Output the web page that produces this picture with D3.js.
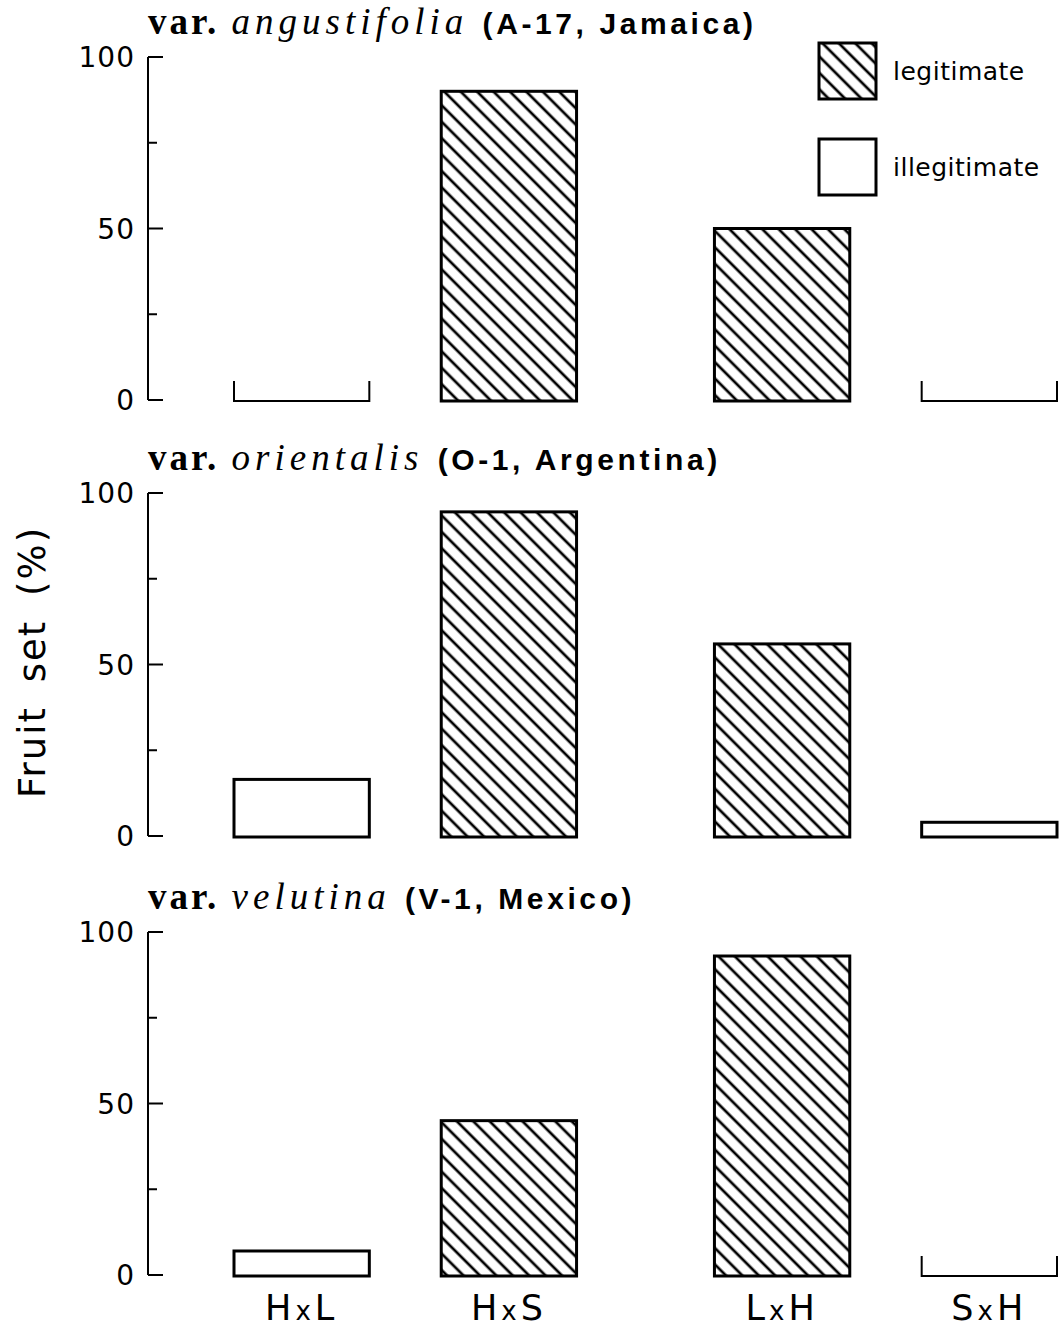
<!DOCTYPE html>
<html lang="en">
<head>
  <meta charset="UTF-8">
  <title>Fruit set</title>
  <style>
    body { margin: 0; background: #fff; }
    svg { display: block; }
  </style>
</head>
<body>
  <svg id="chart" width="1062" height="1330"></svg>
  <script src="https://cdn.jsdelivr.net/npm/d3@7"></script>
  <script>

  // crosses, grouped by the female parent morph
  var crossGroups = [["HxL", "HxS"], ["LxH", "SxH"]];
  var crosses = ["HxL", "HxS", "LxH", "SxH"];
  var crossType = ["illegitimate", "legitimate", "legitimate", "illegitimate"];

  // fruit set (%) per variety
  var varieties = ["angustifolia", "orientalis", "velutina"];
  var sources = ["(A-17, Jamaica)", "(O-1, Argentina)", "(V-1, Mexico)"];
  var angustifolia = [0, 90, 50, 0];
  var orientalis = [16.5, 94.5, 56, 4];
  var velutina = [7, 45, 93, 0];
  var fruitSet = [angustifolia, orientalis, velutina];

  var yTicks = [0, 25, 50, 75, 100];
  var yTickLabels = ["0", "", "50", "", "100"];
  var legendItems = ["legitimate", "illegitimate"];

  var svg = d3.select('#chart');
  var defs = svg.append('defs');

  // diagonal hatching "\\\\"
  var pat = defs.append('pattern')
    .attr('id', 'hatch')
    .attr('patternUnits', 'userSpaceOnUse')
    .attr('width', 11.6)
    .attr('height', 11.6)
    .attr('patternTransform', 'rotate(-45)');
  pat.append('rect').attr('width', 11.6).attr('height', 11.6).attr('fill', '#fff');
  pat.append('line')
    .attr('x1', 5.8).attr('x2', 5.8)
    .attr('y1', 0).attr('y2', 11.6)
    .attr('stroke', '#000')
    .attr('stroke-width', 2.7);

  var fillFor = t => t == 'legitimate' ? 'url(#hatch)' : '#fff';

  // x scales: two groups of two bars
  var xGroup = d3.scaleBand()
    .domain([0, 1])
    .range([234, 1057])
    .paddingInner(0.287)
    .paddingOuter(0);
  var xInner = d3.scaleBand()
    .domain([0, 1])
    .range([0, xGroup.bandwidth()])
    .paddingInner(0.347)
    .paddingOuter(0);

  function barX(i) {
    var g = crossGroups.findIndex(grp => grp.includes(crosses[i]));
    var k = crossGroups[g].indexOf(crosses[i]);
    return xGroup(g) + xInner(k);
  }
  var bw = xInner.bandwidth();

  var panelTop = [57, 493, 932];
  var panelH = 343;
  var axisX = 148;

  fruitSet.forEach((vals, p) => {
    var y = d3.scaleLinear().domain([0, 100]).range([panelTop[p] + panelH, panelTop[p]]);
    var g = svg.append('g');

    // axis line
    g.append('line')
      .attr('x1', axisX).attr('x2', axisX)
      .attr('y1', y(100)).attr('y2', y(0))
      .attr('stroke', '#000').attr('stroke-width', 2);

    // ticks (to the right)
    g.selectAll('.tick')
      .data(yTicks)
      .enter()
      .append('line')
      .attr('x1', axisX)
      .attr('x2', d => axisX + (d % 50 == 0 ? 15 : 9))
      .attr('y1', d => y(d)).attr('y2', d => y(d))
      .attr('stroke', '#000').attr('stroke-width', 2);

    g.selectAll('.tlab')
      .data(yTicks)
      .enter()
      .append('text')
      .attr('x', 135)
      .attr('y', d => y(d))
      .attr('dy', '0.36em')
      .attr('text-anchor', 'end')
      .attr('font-family', 'DejaVu Sans')
      .attr('font-size', 28)
      .attr('letter-spacing', 1)
      .text((d, i) => yTickLabels[i]);

    // title
    var t = g.append('text')
      .attr('x', axisX)
      .attr('y', panelTop[p] - 23);
    t.append('tspan')
      .attr('font-family', 'Liberation Serif')
      .attr('font-weight', 'bold')
      .attr('font-size', 37)
      .attr('letter-spacing', 3)
      .text('var. ');
    t.append('tspan')
      .attr('font-family', 'Liberation Serif')
      .attr('font-style', 'italic')
      .attr('font-size', 37)
      .attr('letter-spacing', 5)
      .text(varieties[p] + ' ');
    t.append('tspan')
      .attr('font-family', 'Liberation Sans')
      .attr('font-weight', 'bold')
      .attr('font-size', 30)
      .attr('letter-spacing', 3.6)
      .text(sources[p]);

    // bars
    vals.forEach((v, i) => {
      var x0 = barX(i);
      if (v == 0) {
        // empty bracket marks a zero value
        g.append('path')
          .attr('d', `M${x0},${y(0) - 19}V${y(0) + 1}H${x0 + bw}V${y(0) - 19}`)
          .attr('fill', 'none')
          .attr('stroke', '#000').attr('stroke-width', 2);
      } else {
        g.append('rect')
          .attr('x', x0)
          .attr('y', y(v))
          .attr('width', bw)
          .attr('height', y(0) + 1 - y(v))
          .attr('fill', fillFor(crossType[i]))
          .attr('stroke', '#000')
          .attr('stroke-width', 3);
      }
    });
  });

  // category labels
  svg.selectAll('.xlab')
    .data(crosses)
    .enter()
    .append('text')
    .attr('x', (d, i) => barX(i) + bw / 2)
    .attr('y', 1320)
    .attr('text-anchor', 'middle')
    .attr('font-family', 'DejaVu Sans')
    .attr('font-size', 35)
    .attr('letter-spacing', 4)
    .each(function(d) {
      var el = d3.select(this);
      el.append('tspan').text(d[0]);
      el.append('tspan').attr('font-size', 26).text(d[1]);
      el.append('tspan').text(d[2]);
    });

  // y label
  svg.append('text')
    .attr('transform', 'translate(45,662) rotate(-90)')
    .attr('text-anchor', 'middle')
    .attr('font-family', 'DejaVu Sans')
    .attr('font-size', 37)
    .attr('letter-spacing', 2)
    .attr('word-spacing', 10)
    .text('Fruit set (%)');

  // legend
  var legend = svg.append('g');
  legendItems.forEach((name, i) => {
    var ly = 43 + i * 96;
    legend.append('rect')
      .attr('x', 819).attr('y', ly)
      .attr('width', 57).attr('height', 56)
      .attr('fill', fillFor(name))
      .attr('stroke', '#000').attr('stroke-width', 3);
    legend.append('text')
      .attr('x', 893).attr('y', ly + 28)
      .attr('dy', '0.36em')
      .attr('font-family', 'DejaVu Sans')
      .attr('font-size', 25)
      .attr('letter-spacing', 0.5)
      .text(name);
  });

  </script>
</body>
</html>
